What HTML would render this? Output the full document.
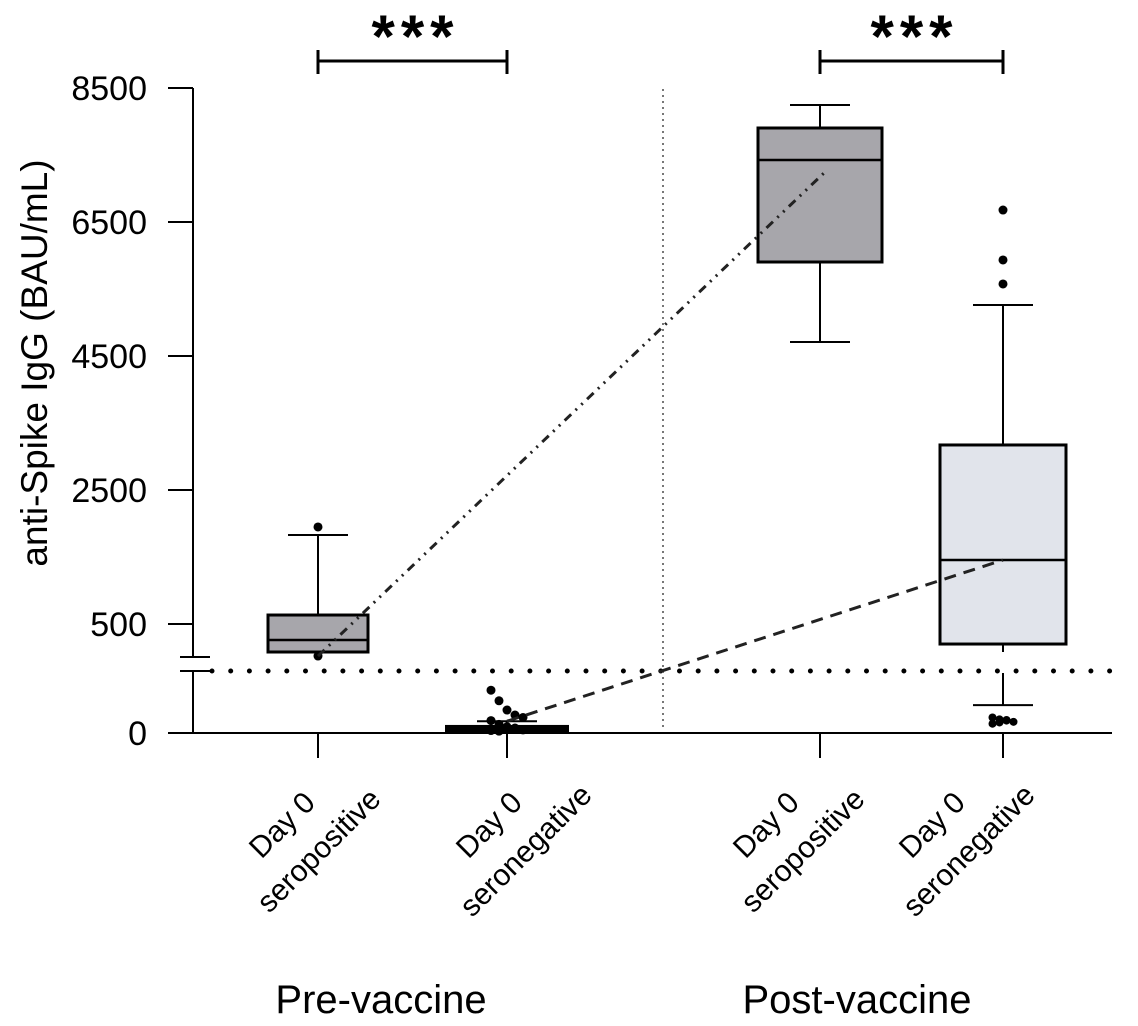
<!DOCTYPE html>
<html><head><meta charset="utf-8"><style>
body{margin:0;background:#fff}
svg{display:block;font-family:"Liberation Sans",Arial,sans-serif}
</style></head><body>
<svg id="chart" width="1138" height="1026" viewBox="0 0 1138 1026">
<g id="axes"></g>
<g id="marks"></g>
<text x="0" y="0" font-size="37" text-anchor="middle" transform="translate(47,363) rotate(-90)">anti-Spike IgG (BAU/mL)</text>
<text x="381" y="1013" font-size="40" text-anchor="middle">Pre-vaccine</text>
<text x="857" y="1013" font-size="40" text-anchor="middle">Post-vaccine</text>
</svg>
<script>
const categories=["Day 0|seropositive","Day 0|seronegative","Day 0|seropositive","Day 0|seronegative"];
const catX=[318,507,820,1003];
const labelDx=[-36,-18,-54,-71];
const boxHalf=[50,62,62,63];
const fills=["#a7a6ab","#000000","#a7a6ab","#e1e4eb"];
// upper-axis values (BAU/mL)
const q1=[82,0,5903,201];
const median=[261,0,7425,1455];
const q3=[634,0,7903,3172];
const whiskerHigh=[1828,0,8246,5261];
const whiskerLow=[null,0,4709,null];
const outliersHigh=[[1948,22],[],[],[6679,5933,5575]];
// lower-axis (below threshold) values, scale 0-100
const lowBoxTop=[null,13,null,null];
const lowWhiskerTop=[null,19,null,null];
const lowWhiskerBottom=[null,null,null,45];
const lowPoints=[[],[69,52,37,29,25,20,14,10,8,5,4,3],[],[25,22,20,18,15,17,21]];
const yTicks=[8500,6500,4500,2500,500];
const lowTicks=[0];

const NS="http://www.w3.org/2000/svg";
function yU(v){return 657.5-v*0.067;}
function yL(v){return 733-v*0.62;}
function mk(p,t,a){const e=document.createElementNS(NS,t);for(const k in a)e.setAttribute(k,a[k]);p.appendChild(e);return e;}
const ax=document.getElementById('axes'),mg=document.getElementById('marks');
let e=mk(ax,'line',{x1:193,y1:yU(8500),x2:193,y2:657,stroke:'#000','stroke-width':2});

e=mk(ax,'line',{x1:180,y1:657,x2:210,y2:657,stroke:'#000','stroke-width':2});

e=mk(ax,'line',{x1:180,y1:671,x2:210,y2:671,stroke:'#000','stroke-width':2});

e=mk(ax,'line',{x1:193,y1:671,x2:193,y2:734,stroke:'#000','stroke-width':2});

e=mk(ax,'line',{x1:168,y1:733,x2:1112,y2:733,stroke:'#000','stroke-width':2});

yTicks.forEach(v=>{
 const y=yU(v);
 let t=mk(ax,'line',{x1:168,y1:y,x2:193,y2:y,stroke:'#000','stroke-width':2});
 
 t=mk(ax,'text',{x:147,y:y+12,'font-size':34,'text-anchor':'end'});t.textContent=v;
 
});
lowTicks.forEach(v=>{
 const y=yL(v);
 let t=mk(ax,'text',{x:147,y:y+12,'font-size':34,'text-anchor':'end'});t.textContent=v;
 
});
e=mk(ax,'line',{x1:212,y1:671,x2:1112,y2:671,stroke:'#000','stroke-width':5,'stroke-dasharray':'0 18.7','stroke-linecap':'round'});

e=mk(ax,'line',{x1:663,y1:89,x2:663,y2:728,stroke:'#777','stroke-width':2,'stroke-dasharray':'2 4'});

categories.forEach((c,i)=>{
 const x=catX[i];
 let t=mk(ax,'line',{x1:x,y1:733,x2:x,y2:758,stroke:'#000','stroke-width':2});
 
 const parts=c.split('|');
 const g=mk(ax,'g',{transform:`translate(${x+labelDx[i]},${825}) rotate(-45)`});
 
 let a=mk(g,'text',{x:0,y:10,'font-size':30,'text-anchor':'middle'});a.textContent=parts[0];
 a=mk(g,'text',{x:8,y:54,'font-size':30,'text-anchor':'middle'});a.textContent=parts[1];
});
categories.forEach((c,i)=>{
 const x=catX[i],h=boxHalf[i];
 if(i===1){
  let w=mk(mg,'line',{x1:x,y1:yL(lowWhiskerTop[i]),x2:x,y2:733,stroke:'#000','stroke-width':2});
  
  w=mk(mg,'line',{x1:x-30,y1:yL(lowWhiskerTop[i]),x2:x+30,y2:yL(lowWhiskerTop[i]),stroke:'#000','stroke-width':2});
  
  const b=mk(mg,'rect',{x:x-h,y:yL(lowBoxTop[i]),width:2*h,height:733-yL(lowBoxTop[i]),fill:'#000'});
  
  lowPoints[i].forEach((v,k)=>{const p=mk(mg,'circle',{cx:x+((k%5)-2)*8,cy:yL(v),r:4.5,fill:'#000'});
   });
  return;
 }
 let w=mk(mg,'line',{x1:x,y1:yU(whiskerHigh[i]),x2:x,y2:yU(q3[i]),stroke:'#000','stroke-width':2});
 
 w=mk(mg,'line',{x1:x-30,y1:yU(whiskerHigh[i]),x2:x+30,y2:yU(whiskerHigh[i]),stroke:'#000','stroke-width':2});
 
 if(whiskerLow[i]!==null){
  w=mk(mg,'line',{x1:x,y1:yU(q1[i]),x2:x,y2:yU(whiskerLow[i]),stroke:'#000','stroke-width':2});
  
  w=mk(mg,'line',{x1:x-30,y1:yU(whiskerLow[i]),x2:x+30,y2:yU(whiskerLow[i]),stroke:'#000','stroke-width':2});
  
 }
 if(lowWhiskerBottom[i]!==null){
  w=mk(mg,'line',{x1:x,y1:yU(q1[i]),x2:x,y2:652,stroke:'#000','stroke-width':2});
  
  w=mk(mg,'line',{x1:x,y1:673,x2:x,y2:yL(lowWhiskerBottom[i]),stroke:'#000','stroke-width':2});
  
  w=mk(mg,'line',{x1:x-30,y1:yL(lowWhiskerBottom[i]),x2:x+30,y2:yL(lowWhiskerBottom[i]),stroke:'#000','stroke-width':2});
  
  lowPoints[i].forEach((v,k)=>{const p=mk(mg,'circle',{cx:x+((k%4)-1.5)*7,cy:yL(v),r:4,fill:'#000'});
   });
 }
 const b=mk(mg,'rect',{x:x-h,y:yU(q3[i]),width:2*h,height:yU(q1[i])-yU(q3[i]),fill:fills[i],stroke:'#000','stroke-width':3});
 
 const m=mk(mg,'line',{x1:x-h,y1:yU(median[i]),x2:x+h,y2:yU(median[i]),stroke:'#000','stroke-width':2.5});
 
 outliersHigh[i].forEach(v=>{const p=mk(mg,'circle',{cx:x,cy:yU(v),r:4.5,fill:'#000'});
  });
});
// connecting lines drawn over boxes
e=mk(mg,'line',{x1:catX[0],y1:yU(22),x2:catX[2]+5,y2:yU(7246),stroke:'#222','stroke-width':3,'stroke-dasharray':'9 6 2 6 2 6'});

e=mk(mg,'line',{x1:catX[1],y1:yL(19),x2:catX[3],y2:yU(1455),stroke:'#222','stroke-width':3,'stroke-dasharray':'12 8'});

[[0,1],[2,3]].forEach(([a,b])=>{
 const x1=catX[a],x2=catX[b];
 let l=mk(mg,'path',{d:`M${x1},50V74M${x1},61H${x2}M${x2},50V74`,stroke:'#000','stroke-width':3,fill:'none'});
 
 l=mk(mg,'text',{x:(x1+x2)/2+3,y:57,'font-size':60,'font-weight':'bold','text-anchor':'middle','letter-spacing':'6'});
 l.textContent='***';
 
});
</script>
</body></html>
